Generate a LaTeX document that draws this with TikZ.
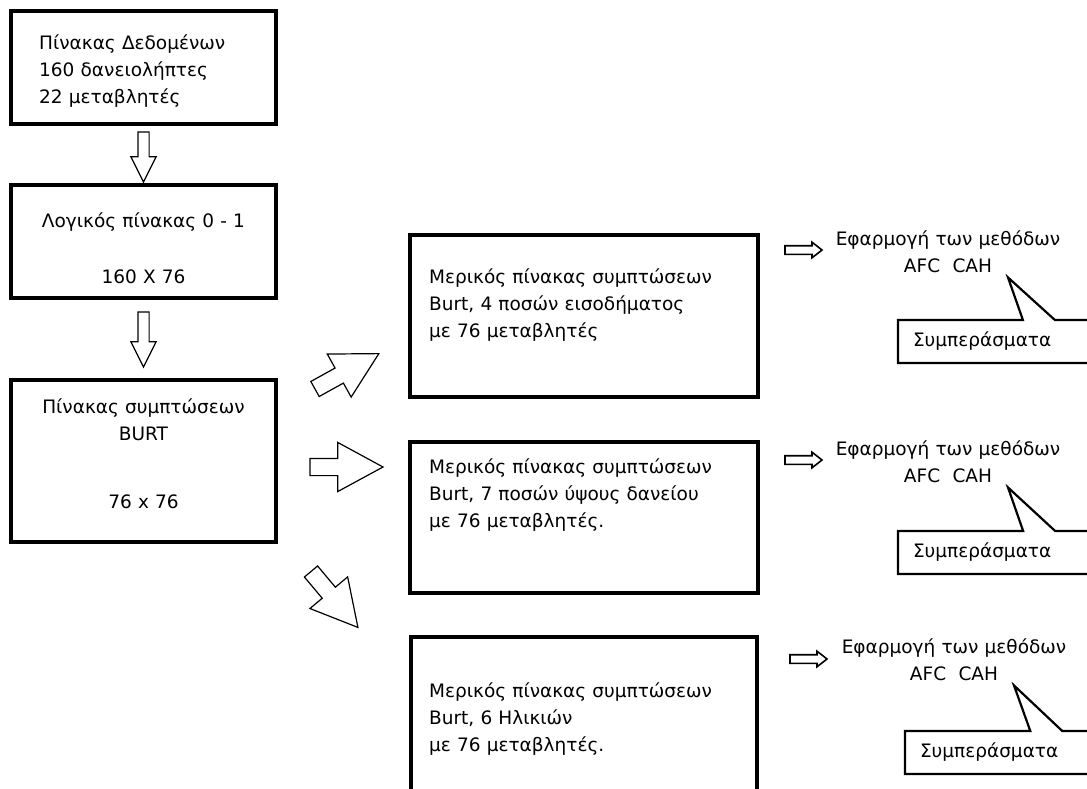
\documentclass[tikz,border=0pt]{standalone}
\usepackage{fontspec}
\setmainfont{DejaVu Sans}
\usetikzlibrary{shapes.arrows,shapes.callouts,calc}

\tikzset{
    tablebox/.style={draw, line width=3.5pt, inner sep=0pt, outer sep=0pt, anchor=north west},
    boxtext/.style={inner sep=0pt, font=\fontsize{18.5}{27}\selectfont},
    fatarrow/.style={draw, fill=white, single arrow, line width=1.2pt, inner sep=8pt, outer sep=0pt,
        single arrow head extend=16pt, single arrow head indent=0pt, minimum width=0pt,
        minimum height=73pt, single arrow tip angle=57, anchor=tail},
    downarrow/.style={fatarrow, inner sep=5pt, single arrow head extend=7pt, single arrow tip angle=53, rotate=-90},
    smallarrow/.style={fatarrow, line width=1.6pt, inner sep=3.5pt, single arrow head extend=3.5pt,
        minimum height=37pt, single arrow tip angle=76},
    concl/.style={rectangle callout, draw, fill=white, line width=2.2pt, callout pointer width=32pt,
        minimum height=43pt, inner xsep=15pt, text width=283pt, align=left,
        font=\fontsize{18.5}{27}\selectfont}
}

\begin{document}
\begin{tikzpicture}[x=1pt, y=-1pt]
        % Draw page
        \useasboundingbox (0,0) rectangle (1087,789);
        \fill[white] (0,0) rectangle (1087,789);
        \clip (0,0) rectangle (1087,789);
        % Draw data table
        \node[tablebox, minimum width=265pt, minimum height=113pt] (data) at (11,11) {};
        \node[boxtext, text width=230pt, align=left, anchor=base west] (dataText) at (39,50) {Πίνακας Δεδομένων\\160 δανειολήπτες\\22 μεταβλητές};
        % Draw logical table
        \node[tablebox, minimum width=265pt, minimum height=113pt] (logic) at (11,185) {};
        \node[boxtext, text width=250pt, align=center, anchor=base] (logicText) at (143.5,227) {Λογικός πίνακας 0 - 1\\[29pt]160 X 76};
        % Draw Burt table
        \node[tablebox, minimum width=265pt, minimum height=162pt] (burt) at (11,380) {};
        \node[boxtext, text width=250pt, align=center, anchor=base] (burtText) at (143.5,413) {Πίνακας συμπτώσεων\\BURT\\[41pt]76 x 76};
        % Draw arrows down
        \node[downarrow, minimum height=50pt] (downA) at ([yshift=-8pt]data.south) {};
        \node[downarrow, minimum height=55pt] (downB) at ([yshift=-14pt]logic.south) {};
        % Draw partial tables
        \node[tablebox, minimum width=348pt, minimum height=162pt] (partA) at (410,235) {};
        \node[boxtext, text width=320pt, align=left, anchor=base west] (partAText) at (429,283) {Μερικός πίνακας συμπτώσεων\\Burt, 4 ποσών εισοδήματος\\με 76 μεταβλητές};
        \node[tablebox, minimum width=348pt, minimum height=151pt] (partB) at (410,442) {};
        \node[boxtext, text width=320pt, align=left, anchor=base west] (partBText) at (429,473) {Μερικός πίνακας συμπτώσεων\\Burt, 7 ποσών ύψους δανείου\\με 76 μεταβλητές.};
        \node[tablebox, minimum width=346pt, minimum height=170pt] (partC) at (411,637) {};
        \node[boxtext, text width=320pt, align=left, anchor=base west] (partCText) at (429,697) {Μερικός πίνακας συμπτώσεων\\Burt, 6 Ηλικιών\\με 76 μεταβλητές.};
        % Draw arrows to partial tables
        \node[fatarrow, rotate=29] (toA) at (315,389) {};
        \node[fatarrow] (toB) at (310,467) {};
        \node[fatarrow, rotate=-50] (toC) at (311,571.5) {};
        % Draw methods
        \node[smallarrow] (goA) at (785,250) {};
        \node[boxtext, text width=260pt, align=center, anchor=base] (methA) at (948,245) {Εφαρμογή των μεθόδων\\AFC~~CAH};
        \node[smallarrow] (goB) at (785,460) {};
        \node[boxtext, text width=260pt, align=center, anchor=base] (methB) at (948,455) {Εφαρμογή των μεθόδων\\AFC~~CAH};
        \node[smallarrow] (goC) at (790,659) {};
        \node[boxtext, text width=260pt, align=center, anchor=base] (methC) at (954,653) {Εφαρμογή των μεθόδων\\AFC~~CAH};
        % Draw conclusions
        \node[concl, callout absolute pointer={($(methA.south)+(60,5)$)}] (resA) at (1054.5,341.5) {Συμπεράσματα};
        \node[concl, callout absolute pointer={($(methB.south)+(60,5)$)}] (resB) at (1054.5,552.5) {Συμπεράσματα};
        \node[concl, callout absolute pointer={($(methC.south)+(60,5)$)}] (resC) at (1061.5,752.5) {Συμπεράσματα};
\end{tikzpicture}
\end{document}
